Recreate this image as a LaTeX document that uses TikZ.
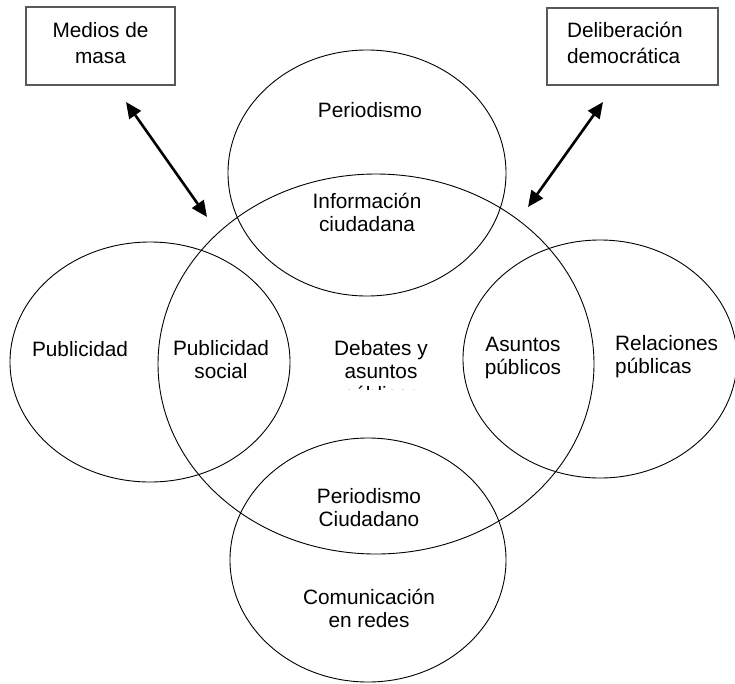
\documentclass[tikz,border=0pt]{standalone}
\usepackage{fontspec}
\setmainfont{Liberation Sans}
\usetikzlibrary{arrows.meta}
\begin{document}
\begin{tikzpicture}[x=1pt,y=-1pt,
  ring/.style={draw=black, line width=0.9pt},
  lbl/.style={inner sep=0pt, align=center, font=\fontsize{20.8}{23}\selectfont},
  boxnode/.style={draw=black!65, line width=1.2pt, inner sep=0pt, text depth=7pt, font=\fontsize{20.8}{26}\selectfont},
  dbl/.style={{Triangle[length=16pt,width=14pt]}-{Triangle[length=16pt,width=14pt]}, line width=2.6pt}
]
\useasboundingbox (0,0) rectangle (735,683);

% ellipses
\draw[ring] (367,173) ellipse [x radius=139pt, y radius=123pt];
\draw[ring] (376,364) ellipse [x radius=218pt, y radius=190pt];
\draw[ring] (150,362) ellipse [x radius=140pt, y radius=120pt];
\draw[ring] (600,359) ellipse [x radius=137pt, y radius=119pt];
\draw[ring] (368,560) ellipse [x radius=138pt, y radius=122pt];

% boxes
\node[boxnode, minimum width=149pt, minimum height=78pt, align=center] (medios) at (100.5,46) {Medios de\\masa};
\node[boxnode, text depth=33pt, minimum width=171pt, minimum height=77pt, text width=131pt, inner xsep=20pt, align=left] (delib) at (632.5,46.5) {Deliberación\\democrática};

% arrows
\coordinate (m1) at (126,102);
\coordinate (m2) at (207,217);
\coordinate (d1) at (603,102);
\coordinate (d2) at (528,207);
\draw[dbl] (m1) -- (m2);
\draw[dbl] (d1) -- (d2);

% labels
\node[lbl] (period) at (370,110) {Periodismo};
\node[lbl] (info) at (367,212) {Información\\ciudadana};
\node[lbl] (publ) at (80,349) {Publicidad};
\node[lbl] (pubsoc) at (221,360) {Publicidad\\social};
\begin{scope}
\clip (290,320) rectangle (470,389);
\node[lbl] (debates) at (381,373) {Debates y\\asuntos\\públicos};
\end{scope}
\node[lbl] (asuntos) at (523,358) {Asuntos\\públicos};
\node[lbl, anchor=west, align=left] (relac) at (615,357) {Relaciones\\públicas};
\node[lbl] (perciu) at (369,508) {Periodismo\\Ciudadano};
\node[lbl] (comred) at (369,608) {Comunicación\\en redes};
\end{tikzpicture}
\end{document}
